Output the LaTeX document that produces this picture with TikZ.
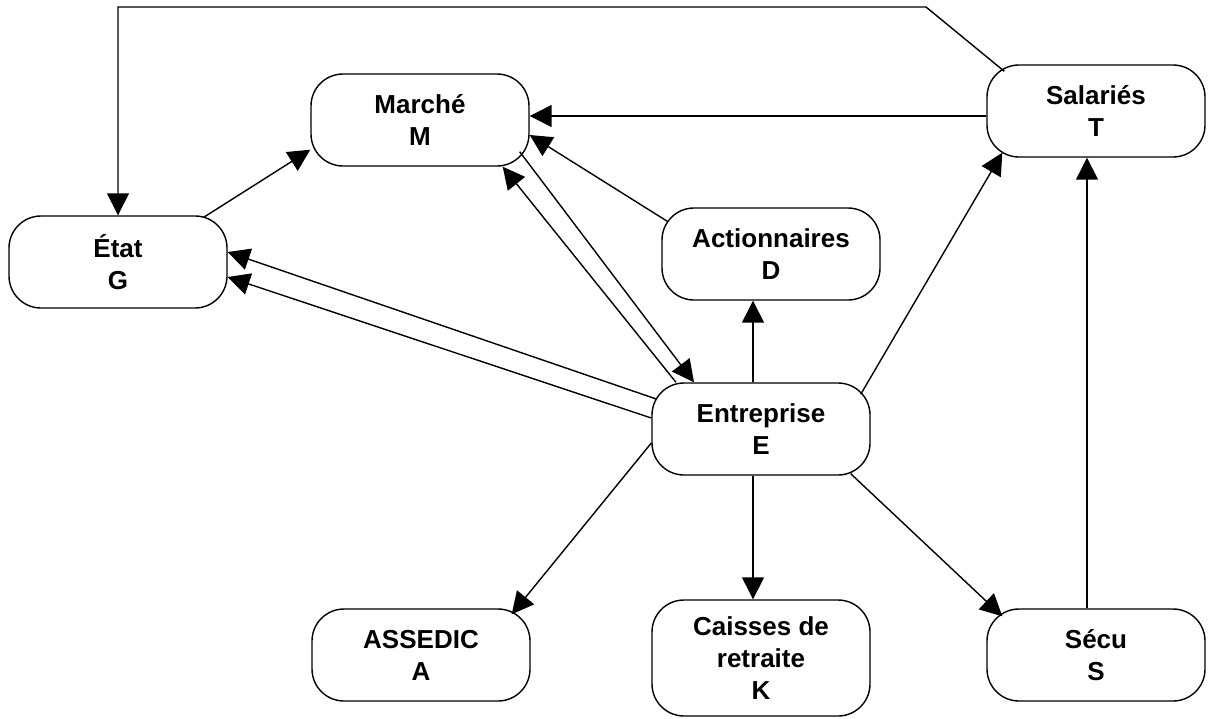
\documentclass[tikz,border=0pt]{standalone}
\usepackage{fontspec}
\setmainfont{Liberation Sans}
\usetikzlibrary{arrows.meta,calc}

\tikzset{
  box/.style={draw, line width=0.8pt, rounded corners=0.64cm, fill=white, align=center,
    minimum width=4.36cm, minimum height=1.84cm, inner sep=0pt,
    font=\bfseries\fontsize{14.8}{18.2}\selectfont},
  flow/.style={line width=0.8pt, -{Triangle[length=12.5pt,width=12.5pt]}}
}

\begin{document}
\begin{tikzpicture}[x=0.2mm,y=-0.2mm]
    \useasboundingbox (0,0) rectangle (1213,718);
    %NODES
    \node[box] (M) at (420,120) {Marché\\M};
    \node[box] (G) at (118,262) {État\\G};
    \node[box] (T) at (1096,111) {Salariés\\T};
    \node[box] (D) at (771,254) {Actionnaires\\D};
    \node[box] (E) at (761,429) {Entreprise\\E};
    \node[box] (A) at (421,655) {ASSEDIC\\A};
    \node[box,minimum height=2.32cm] (K) at (761,658) {Caisses de\\retraite\\K};
    \node[box] (S) at (1096,655) {Sécu\\S};
    %ETAT
    \draw[flow] ($(G.north east)+(-24,2)$) -- ($(M.south west)+(0,-17)$);
    %SALARIES
    \draw[flow] ($(T.north west)+(18,7)$) -- (926,7) -| (G.north);
    \draw[flow] ($(T.west)+(0,5)$) -- ($(M.east)+(0,-4)$);
    %ACTIONNAIRES
    \draw[flow] ($(D.north west)+(6,14)$) -- ($(M.east)+(0,15)$);
    %ENTREPRISE
    \draw[flow] ($(E.north)+(-85,0)$) -- ($(M.south east)+(-27,0)$);
    \draw[flow] ($(M.south east)+(-10,-15)$) -- ($(E.north)+(-67,0)$);
    \draw[flow] ($(E.west)+(5,-30)$) -- ($(G.east)+(0,-10)$);
    \draw[flow] ($(E.west)+(0,-11)$) -- ($(G.east)+(0,15)$);
    \draw[flow] ($(E.north)+(-8,0)$) -- ($(D.south)+(-18,0)$);
    \draw[flow] ($(E.north east)+(-10,12)$) -- ($(T.south west)+(16,-5)$);
    \draw[flow] ($(E.west)+(0,14)$) -- ($(A.north east)+(-19,6)$);
    \draw[flow] ($(E.south)+(-8,0)$) -- ($(K.north)+(-8,0)$);
    \draw[flow] ($(E.south east)+(-20,-2)$) -- ($(S.north west)+(16,8)$);
    %SECU
    \draw[flow] ($(S.north)+(-9,0)$) -- ($(T.south)+(-9,0)$);
\end{tikzpicture}
\end{document}
